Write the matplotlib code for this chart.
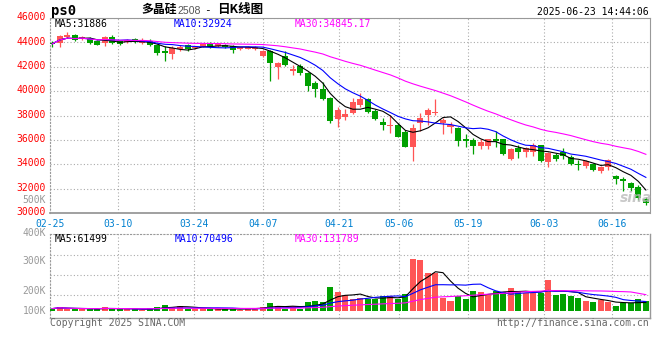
import numpy as np
import pandas as pd
import matplotlib
matplotlib.use("Agg")
import matplotlib.pyplot as plt
import matplotlib.transforms as mtransforms

W, H = 660, 360

# ---------------- data ----------------
tick_labels = ["02-25", "03-10", "03-24", "04-07", "04-21", "05-06", "05-19", "06-03", "06-16"]
tick_index = [0, 9, 19, 28, 38, 46, 55, 65, 74]

opens = [43920, 43920, 44470, 44630, 44280, 44360, 44140, 43920, 44470, 44090,
         44030, 44280, 43970, 44090, 43760, 43290, 43050, 43480, 43800, 43540,
         43650, 43870, 43680, 43800, 43680, 43480, 43480, 43450, 42910, 43290,
         41950, 42880, 41680, 42060, 41510, 40690, 40170, 39460, 37710, 37900,
         38230, 38860, 39350, 38390, 37490, 37140, 37220, 36670, 35440, 37360,
         38041, 38180, 37360, 37080, 36999, 36047, 35990, 35522, 35522, 36047,
         36072, 34431, 35358, 35030, 35030, 35579, 34209, 34759, 35030, 34619,
         34050, 33860, 34020, 33470, 33750, 33040, 32760, 32440, 32160, 31120]
highs = [44100, 44630, 44850, 44720, 44520, 44440, 44200, 44520, 44570, 44150,
         44300, 44350, 44330, 44300, 43900, 43680, 43680, 43800, 43880, 43700,
         43950, 44000, 43950, 43880, 43750, 43650, 43700, 43700, 43370, 43370,
         42390, 43290, 42140, 42230, 41560, 40860, 40770, 39480, 38720, 38510,
         39410, 39870, 39410, 38510, 37770, 38040, 37360, 36800, 37300, 38230,
         38640, 39350, 37770, 37490, 37050, 36480, 36190, 36070, 36100, 36730,
         36100, 35300, 35580, 35440, 35720, 35600, 35000, 34950, 35310, 34760,
         34350, 34330, 34130, 33860, 34400, 33120, 32980, 32570, 32300, 31340]
lows = [43650, 43650, 44360, 44140, 44200, 43900, 43750, 43700, 43900, 43800,
        43950, 43950, 43900, 43700, 43000, 42450, 42660, 43270, 43300, 43450,
        43600, 43550, 43600, 43500, 43150, 43400, 43420, 43350, 42820, 40860,
        40990, 42090, 41320, 41320, 40030, 39490, 39270, 37360, 37080, 37630,
        38120, 38720, 38230, 37630, 36810, 36590, 36210, 35390, 34290, 36750,
        37220, 38040, 36480, 36540, 35520, 35440, 34840, 35220, 35220, 35440,
        34760, 34350, 34540, 34620, 34680, 34210, 33800, 34290, 34410, 33940,
        33530, 33720, 33450, 33300, 33530, 32380, 31830, 31830, 31070, 30650]
closes = [43880, 44520, 44630, 44220, 44440, 43970, 43810, 44410, 43970, 43870,
          44220, 44000, 44170, 43760, 43130, 43100, 43540, 43600, 43480, 43650,
          43870, 43650, 43870, 43590, 43400, 43590, 43620, 43590, 43290, 42330,
          42330, 42140, 41820, 41510, 40450, 40170, 39350, 37550, 38450, 38100,
          39130, 39350, 38310, 37710, 37220, 37250, 36260, 35440, 36950, 37820,
          38451, 38312, 37631, 37221, 35932, 35932, 35522, 35850, 36047, 35932,
          34817, 35251, 35030, 35309, 35579, 34291, 34948, 34431, 34701, 34020,
          33960, 34290, 33500, 33740, 34320, 32750, 32600, 32050, 31250, 30780]
volumes = [20000, 34000, 17000, 17000, 17000, 17000, 17000, 34000, 17000, 14000,
           14000, 14000, 11000, 25000, 34000, 50000, 34000, 42000, 17000, 14000,
           25000, 14000, 14000, 14000, 25000, 11000, 25000, 25000, 34000, 67000,
           42000, 17000, 42000, 17000, 76000, 84000, 76000, 204000, 160000, 134000,
           101000, 112000, 101000, 101000, 126000, 126000, 101000, 146000, 437000, 428000,
           319000, 319000, 106000, 87000, 129000, 101000, 171000, 162000, 134000, 171000,
           160000, 193000, 160000, 148000, 148000, 148000, 260000, 134000, 146000, 126000,
           109000, 84000, 76000, 92000, 78000, 45000, 64000, 64000, 101000, 84000]

price_ticks = [30000, 32000, 34000, 36000, 38000, 40000, 42000, 44000, 46000]
vol_labels = ["500K", "400K", "300K", "200K", "100K"]
price_ma_text = ["MA5:31886", "MA10:32924", "MA30:34845.17"]
vol_ma_text = ["MA5:61499", "MA10:70496", "MA30:131789"]
ma_windows = [5, 10, 30]

# ---------------- style ----------------
RED = "#FF5555"
GREEN = "#00A000"
MA_COLORS = ["#000000", "#0000FF", "#FF00FF"]
GRID = "#AAAAAA"
FRAME = "#999999"
MONO = "DejaVu Sans Mono"
CJK = ["Noto Sans CJK SC", "DejaVu Sans"]
plt.rcParams["font.family"] = MONO


def fx(x):
    return x / W


def fy(y):
    return 1 - y / H


fig = plt.figure(figsize=(6.6, 3.6), dpi=100)
fig.patch.set_facecolor("white")
ax = fig.add_axes([fx(50), fy(213), 600 / W, 195 / H])
axv = fig.add_axes([fx(50), fy(318), 600 / W, 84 / H])

o = np.array(opens, float)
h = np.array(highs, float)
l = np.array(lows, float)
c = np.array(closes, float)
v = np.array(volumes, float)
n = len(c)
idx = np.arange(n)
up = c >= o
cols = np.where(up, RED, GREEN)

xl = (-0.3, 79.55)
tick_pos = xl[0] + np.array(tick_index) * (xl[1] - xl[0]) / (n - 1)
dotted = (0, (1.0, 2.0))

# ---- main candlestick panel ----
ax.vlines(idx, l, h, colors=cols, lw=0.9, zorder=3)
body_bottom = np.minimum(o, c)
body_h = np.maximum(np.abs(c - o), 80)
ax.bar(idx, body_h, bottom=body_bottom, width=0.8, color=cols, linewidth=0, zorder=4)
cs = pd.Series(c)
for w, col in zip(ma_windows, MA_COLORS):
    ax.plot(idx, cs.rolling(w, min_periods=1).mean(), color=col, lw=0.8, zorder=5)

ax.set_xlim(*xl)
ax.set_ylim(price_ticks[0], price_ticks[-1])
ax.set_yticks(price_ticks)
ax.set_yticklabels([str(t) for t in price_ticks], color="#FF0000", fontsize=7, family=MONO)
ax.set_xticks(tick_pos)
ax.set_xticklabels(tick_labels, color="#0080D0", fontsize=7, family=MONO)
ax.tick_params(axis="both", length=0)
ax.tick_params(axis="y", pad=3.2)
ax.tick_params(axis="x", pad=4.5)
up_shift = mtransforms.ScaledTranslation(0, 1.8 / 100, fig.dpi_scale_trans)
for lab in ax.get_yticklabels():
    lab.set_transform(lab.get_transform() + up_shift)
ax.grid(True, color=GRID, lw=0.8, linestyle=dotted, zorder=0)
ax.set_axisbelow(True)
for s in ["top", "right"]:
    ax.spines[s].set_color(FRAME)
    ax.spines[s].set_linewidth(0.8)
ax.spines["bottom"].set_color(FRAME)
ax.spines["bottom"].set_linewidth(1.3)
ax.spines["left"].set_color(FRAME)
ax.spines["left"].set_linewidth(0.8)
ax.spines["left"].set_linestyle(dotted)

# ---- volume panel ----
axv.bar(idx, v, width=0.8, color=cols, linewidth=0, zorder=3)
vs = pd.Series(v)
for w, col in zip(ma_windows, MA_COLORS):
    axv.plot(idx, vs.rolling(w, min_periods=1).mean(), color=col, lw=0.8, zorder=5)
axv.set_xlim(*xl)
axv.set_ylim(-58800, 646800)
axv.set_xticks(tick_pos)
axv.set_xticklabels([])
axv.set_yticks([134400, 302400, 470400])
axv.set_yticklabels([])
axv.tick_params(axis="both", length=0)
axv.grid(True, color=GRID, lw=0.8, linestyle=dotted, zorder=0)
axv.set_axisbelow(True)
for s in ["bottom", "right"]:
    axv.spines[s].set_color(FRAME)
    axv.spines[s].set_linewidth(1.0)
for s in ["top", "left"]:
    axv.spines[s].set_color(FRAME)
    axv.spines[s].set_linewidth(0.8)
    axv.spines[s].set_linestyle(dotted)

# volume axis labels (as drawn by the source, irregularly placed)
for lab, ypx in zip(vol_labels, [200, 233, 261, 291, 311]):
    fig.text(fx(46), fy(ypx), lab, ha="right", va="center", color="#999999",
             fontsize=7, family=MONO)

# ---- header texts ----
for txt, col, xpx in zip(price_ma_text, MA_COLORS, [55, 174, 295]):
    fig.text(fx(xpx), fy(24), txt, ha="left", va="center", color=col, fontsize=7, family=MONO)
for txt, col, xpx in zip(vol_ma_text, MA_COLORS, [55, 175, 295]):
    fig.text(fx(xpx), fy(238.5), txt, ha="left", va="center", color=col, fontsize=7, family=MONO)

fig.text(fx(51), fy(11), "ps0", ha="left", va="center", fontsize=10, fontweight="bold", family=MONO)
fig.text(fx(141), fy(10), "多晶硅", ha="left", va="center", fontsize=8.6, fontweight="bold", family=CJK)
fig.text(fx(177), fy(10.5), "2508", ha="left", va="center", fontsize=7.6, color="#555555",
         family="Liberation Sans")
fig.text(fx(204), fy(10), "-", ha="left", va="center", fontsize=8, family=MONO)
fig.text(fx(217), fy(10), "日K线图", ha="left", va="center", fontsize=9, fontweight="bold", family=CJK)
fig.text(fx(649), fy(12), "2025-06-23 14:44:06", ha="right", va="center", fontsize=7, family=MONO)

fig.text(fx(50), fy(323.5), "Copyright 2025 SINA.COM", ha="left", va="center", fontsize=7,
         color="#666666", family=MONO)
fig.text(fx(649), fy(323.5), "http://finance.sina.com.cn", ha="right", va="center", fontsize=7,
         color="#666666", family=MONO)

# watermark
fig.text(fx(636), fy(198), "sina", ha="center", va="center", fontsize=10, fontweight="bold",
         style="italic", color="#BBBBBB", alpha=0.8, family="DejaVu Sans")

fig.savefig("out.png", dpi=100, facecolor="white")
